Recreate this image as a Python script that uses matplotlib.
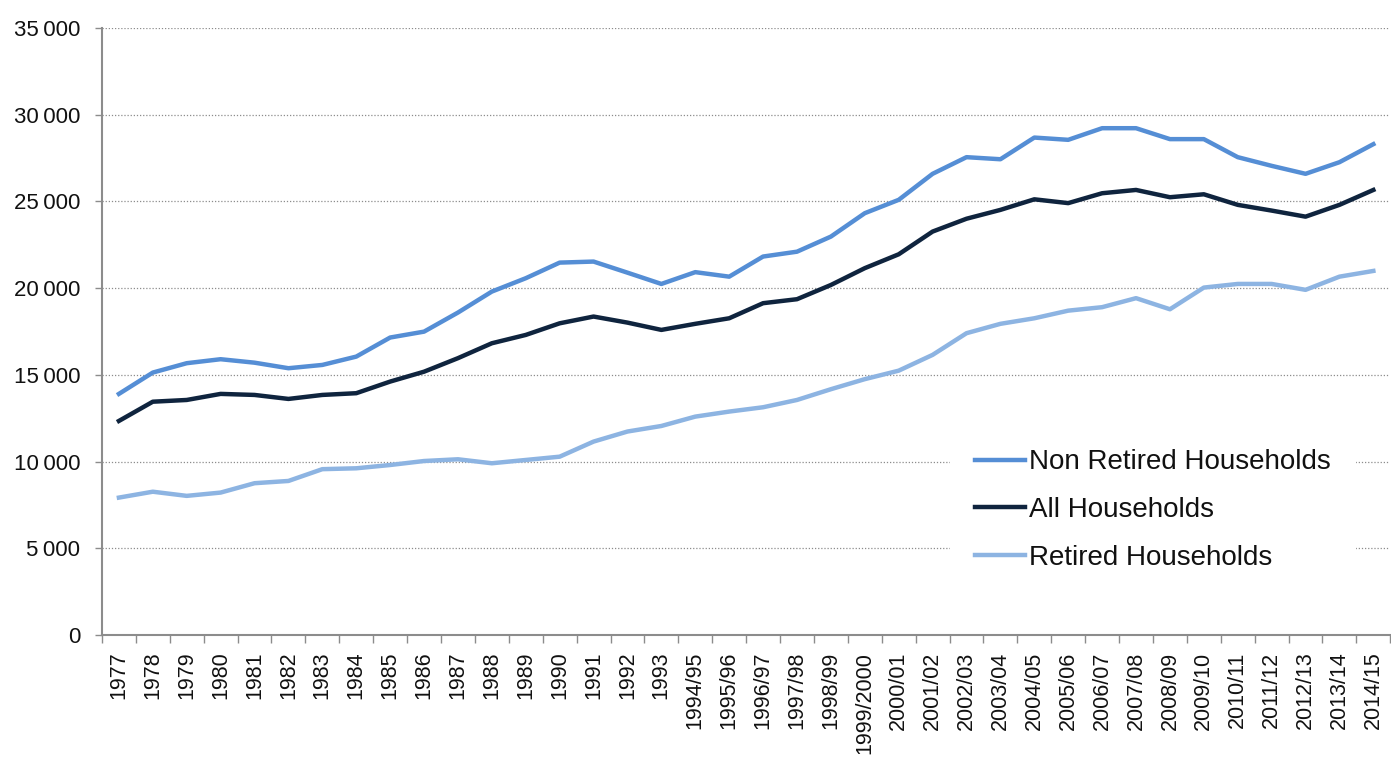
import matplotlib
matplotlib.use("Agg")
import matplotlib.pyplot as plt
from matplotlib.ticker import FuncFormatter, FixedLocator

plt.rcParams['font.family'] = ['Liberation Sans', 'DejaVu Sans']

categories = ["1977", "1978", "1979", "1980", "1981", "1982", "1983", "1984", "1985",
              "1986", "1987", "1988", "1989", "1990", "1991", "1992", "1993",
              "1994/95", "1995/96", "1996/97", "1997/98", "1998/99", "1999/2000",
              "2000/01", "2001/02", "2002/03", "2003/04", "2004/05", "2005/06",
              "2006/07", "2007/08", "2008/09", "2009/10", "2010/11", "2011/12",
              "2012/13", "2013/14", "2014/15"]

non_retired = [13900, 15130, 15670, 15900, 15700, 15380, 15570, 16050, 17150,
               17490, 18590, 19800, 20570, 21470, 21530, 20890, 20240,
               20920, 20660, 21820, 22100, 22970, 24320,
               25090, 26590, 27550, 27430, 28680, 28550,
               29220, 29220, 28590, 28590, 27550, 27050,
               26590, 27260, 28300]

all_households = [12340, 13450, 13550, 13900, 13840, 13610, 13840, 13940, 14610,
                  15180, 15960, 16820, 17300, 17970, 18360, 18010, 17590,
                  17940, 18260, 19130, 19360, 20180, 21150,
                  21950, 23260, 24000, 24510, 25120, 24900,
                  25470, 25660, 25240, 25410, 24800, 24470,
                  24120, 24800, 25660]

retired = [7920, 8260, 8020, 8210, 8750, 8880, 9560, 9610, 9800,
           10030, 10130, 9900, 10090, 10280, 11150, 11730, 12050,
           12590, 12880, 13130, 13550, 14170, 14750,
           15240, 16150, 17400, 17940, 18260, 18700,
           18900, 19420, 18780, 20030, 20240, 20240,
           19900, 20660, 20990]

series_labels = ["Non Retired Households", "All Households", "Retired Households"]
colors = ["#558ED5", "#0F243E", "#8DB4E2"]

fig = plt.figure(figsize=(13.91, 7.64), dpi=100)
ax = fig.add_axes([0.0733, 0.1689, 0.9262, 0.7945])

x = list(range(len(categories)))
for vals, lab, col in zip([non_retired, all_households, retired], series_labels, colors):
    ax.plot(x, vals, color=col, lw=3.2, label=lab, solid_joinstyle='round')

ax.set_xlim(-0.5, len(categories) - 0.5)
ax.set_ylim(0, 35000)
ax.set_yticks(range(0, 35001, 5000))
ax.yaxis.set_major_formatter(FuncFormatter(lambda v, p: f"{int(v):,}".replace(",", "\u2009")))
ax.yaxis.grid(True, linestyle=(0, (1, 1.5)), color="#8c8c8c", lw=0.9)
ax.set_axisbelow(True)

ax.set_xticks(x)
ax.set_xticklabels(categories, rotation=90)
ax.xaxis.set_minor_locator(FixedLocator([i - 0.5 for i in range(len(categories) + 1)]))
ax.tick_params(axis='x', which='major', length=0, pad=12, labelsize=15.5, labelcolor="#111111")
ax.tick_params(axis='x', which='minor', length=6, width=1, color="#8c8c8c")
ax.tick_params(axis='y', which='major', length=5, width=1, color="#8c8c8c", labelsize=16,
               labelcolor="#111111", pad=10.5)

for s in ["top", "right"]:
    ax.spines[s].set_visible(False)
for s in ["left", "bottom"]:
    ax.spines[s].set_color("#8c8c8c")
    ax.spines[s].set_linewidth(1.5)

leg = ax.legend(loc="upper left", bbox_to_anchor=(0.6582, 0.3470), frameon=True, fontsize=20,
                handlelength=1.8, handletextpad=0.15, labelspacing=0.78, borderpad=0.9,
                borderaxespad=0)
leg.get_frame().set_facecolor("white")
leg.get_frame().set_edgecolor("none")
leg.get_frame().set_alpha(1)
for t in leg.get_texts():
    t.set_color("#111111")

fig.savefig("out.png", dpi=100)
